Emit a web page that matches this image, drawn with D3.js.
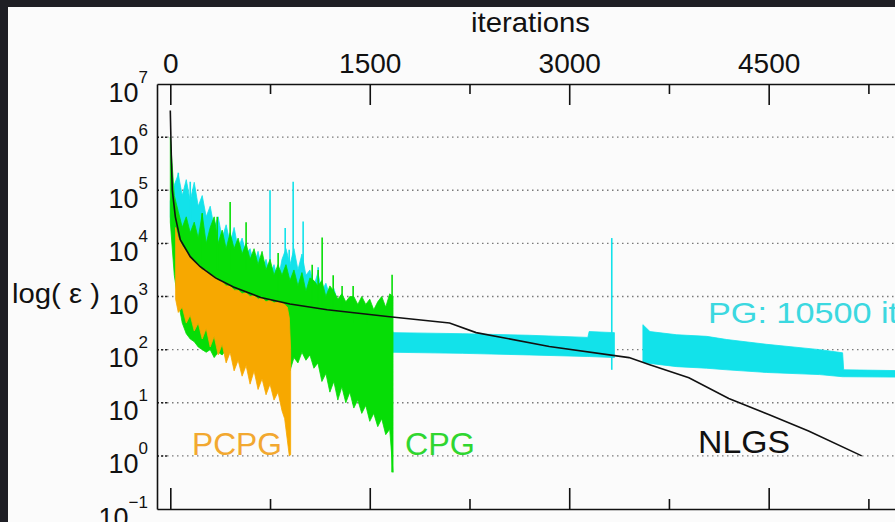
<!DOCTYPE html>
<html>
<head>
<meta charset="utf-8">
<script src="https://cdn.jsdelivr.net/npm/d3@7"></script>
<style>
  html, body { margin: 0; padding: 0; background: #1f1f25; }
  svg { display: block; }
  text { font-family: "Liberation Sans", Arial, Helvetica, sans-serif; }
</style>
</head>
<body>
<div id="chart"></div>
<script>
// values are log10(error)
const earlyIter = [0,30,60,90,120,150,180,210,240,270,300,330,360,390,420,450,480,510,540,570,600,630,660,690,720,750,780,810,840,870,900,930,960,990,1020,1050,1080,1110,1140,1170,1200,1230,1260,1290,1320,1350,1380,1410,1440,1470,1500,1530,1560,1590,1620,1650,1675];

// PG (cyan), noisy start
const pgHi = [4.8,5.1,5.3,4.9,5.2,4.8,5.15,4.7,4.9,4.5,4.7,4.3,4.5,4.1,4.35,4.0,4.3,3.9,4.1,3.8,3.9,3.6,3.85,3.5,3.7,3.4,3.6,3.3,3.7,3.9,3.6,3.9,3.5,3.8,3.4,3.5,3.2,3.45,3.1,3.25,3.0,3.15,2.9,3.05,2.8,2.9,2.7,2.85,2.6,2.75,2.55,2.7,2.5,2.65,2.45,2.6,2.32];
const pgLo = [4.5,3.8,3.3,2.9,2.7,2.6,2.5,2.5,2.5,2.5,2.5,2.5,2.5,2.5,2.5,2.5,2.4,2.4,2.4,2.4,2.4,2.4,2.4,2.4,2.4,2.4,2.4,2.4,2.3,2.3,2.3,2.3,2.2,2.2,2.2,2.2,2.2,2.2,2.2,2.1,2.1,2.1,2.1,2.05,2.05,2.05,2.0,2.0,2.0,2.0,2.0,2.0,1.98,1.98,1.96,1.96,1.95];
// PG oscillation band afterwards (null = gap)
const pgBandIter = [1675,2200,2700,3140,3150,3340,3341,3554,3607,3809,4034,4185,4485,4884,5056,5064,5600];
const pgBandHi = [2.32,2.30,2.27,2.23,2.34,2.32,null,2.47,2.34,2.28,2.25,2.19,2.10,2.00,1.94,1.62,1.60];
const pgBandLo = [1.95,1.93,1.90,1.87,1.87,1.85,null,1.76,1.74,1.68,1.65,1.62,1.57,1.53,1.49,1.49,1.48];
const pgSpikeIter = [60,150,750,864,894,924,999,1112,3320];
const pgSpikeTop = [5.33,5.16,5.0,4.29,3.88,5.16,4.41,3.55,4.1];
const pgSpikeBottom = [4.0,4.0,3.3,3.3,3.3,3.3,3.3,3.0,1.62];

// CPG (green)
const cpgHi = [6.0,4.9,4.6,4.3,4.5,4.2,4.4,4.1,4.55,4.0,4.3,4.5,4.0,4.25,3.9,4.2,3.9,4.1,3.8,4.0,3.7,3.9,3.6,3.85,3.5,3.7,3.4,3.6,3.4,3.6,3.3,3.5,3.2,3.45,3.1,3.35,3.3,3.2,3.3,3.0,3.2,3.1,2.95,3.05,2.9,3.0,3.0,2.85,3.0,2.85,2.95,2.75,2.9,3.0,2.8,3.05,3.0];
const cpgLo = [4.4,3.4,2.9,2.5,2.3,2.2,2.15,2.05,2.0,1.95,2.0,1.85,1.95,1.9,2.0,1.95,1.9,2.0,1.9,2.0,1.9,2.0,1.9,2.0,1.9,2.0,1.9,2.0,1.9,1.8,1.6,1.85,1.75,1.95,1.8,1.9,1.65,1.75,1.4,1.55,1.2,1.4,1.05,1.3,1.0,1.2,0.9,1.05,0.8,0.95,0.65,0.8,0.55,0.7,0.4,0.5,-0.31];
const cpgSpikeIter = [240,353,450,570,811,1067,1112,1142,1225,1292,1375,1480,1668];
const cpgSpikeTop = [4.57,4.5,4.78,4.4,3.82,3.6,3.5,4.11,3.4,3.2,3.2,2.85,3.41];
const cpgSpikeBottom = [3.5,3.5,3.5,3.5,3.0,2.8,2.8,2.8,2.6,2.6,2.5,2.5,-0.31];

// PCPG (orange)
const pcpgIter = [40,60,90,120,150,180,210,240,270,300,330,360,390,420,450,480,510,540,570,600,630,660,690,720,750,780,810,840,860,880,895,905];
const pcpgHi = [4.3,4.1,3.95,3.85,3.72,3.65,3.6,3.5,3.5,3.4,3.38,3.3,3.28,3.2,3.2,3.12,3.12,3.05,3.07,3.0,3.02,2.95,2.97,2.9,2.93,2.88,2.9,2.88,2.85,2.8,2.6,2.0];
const pcpgLo = [2.95,2.7,2.8,2.5,2.65,2.35,2.5,2.2,2.4,2.05,2.25,1.9,2.1,1.75,1.95,1.6,1.8,1.5,1.7,1.35,1.6,1.25,1.45,1.15,1.35,1.05,1.2,0.85,0.7,0.3,0.0,0.02];

// NLGS (black)
const nlgsIter = [0,8,15,38,75,150,225,340,475,680,900,1180,1650,2100,2300,2850,3450,3600,3900,4200,4500,4800,5200];
const nlgsVal = [6.5,5.6,5.0,4.5,4.07,3.75,3.56,3.35,3.18,2.98,2.86,2.75,2.62,2.50,2.32,2.06,1.85,1.72,1.47,1.08,0.78,0.47,0.0];

const majorTicks = [0,1500,3000,4500];
const minorTicks = [750,2250,3750,5250];
const yExps = [-1,0,1,2,3,4,5,6,7];

const W = 895, H = 522;
const pLeft = 157, pTop = 84, pBottom = 509, pRight = 895;

const svg = d3.select("#chart").append("svg")
    .attr("width", W)
    .attr("height", H);

svg.append("rect").attr("width", W).attr("height", H).attr("fill", "#1f1f25");
svg.append("rect").attr("x", 8).attr("y", 7).attr("width", W - 8).attr("height", H - 7).attr("fill", "#fbfbfb");

const x = d3.scaleLinear().domain([-100, 5450]).range([pLeft, pRight]);
const y = d3.scaleLog().domain([1e-1, 1e7]).range([pBottom, pTop]);
const p = e => Math.pow(10, e);

// dotted grid
const grid = svg.append("g");
yExps.filter(e => e >= 0 && e <= 6).forEach(e => {
    grid.append("line")
        .attr("x1", pLeft).attr("x2", pRight)
        .attr("y1", y(p(e))).attr("y2", y(p(e)))
        .attr("stroke", "#7a7a7a").attr("stroke-width", 1.3)
        .attr("stroke-dasharray", "1.5,3.5");
    grid.append("line")
        .attr("x1", pLeft).attr("x2", pLeft + 12)
        .attr("y1", y(p(e))).attr("y2", y(p(e)))
        .attr("stroke", "#222").attr("stroke-width", 1.5)
        .attr("stroke-dasharray", "2,2");
});

svg.append("clipPath").attr("id", "clip")
    .append("rect").attr("x", pLeft).attr("y", pTop).attr("width", pRight - pLeft).attr("height", pBottom - pTop);
const plot = svg.append("g").attr("clip-path", "url(#clip)");

const area = d3.area()
    .defined(d => d.hi != null)
    .x(d => x(d.it))
    .y0(d => y(p(d.lo)))
    .y1(d => y(p(d.hi)));

function drawBand(iters, hi, lo, color) {
    const rows = iters.map((it, i) => ({it: it, hi: hi[i], lo: lo[i]}));
    plot.append("path")
        .datum(rows)
        .attr("d", area)
        .attr("fill", color)
        .attr("stroke", color)
        .attr("stroke-width", 0.8);
}

function drawSpikes(iters, tops, bottoms, color) {
    plot.selectAll(null)
        .data(iters)
        .enter()
        .append("line")
        .attr("x1", d => x(d)).attr("x2", d => x(d))
        .attr("y1", (d, i) => y(p(bottoms[i])))
        .attr("y2", (d, i) => y(p(tops[i])))
        .attr("stroke", color)
        .attr("stroke-width", 1.6);
}

const cyan = "#12e2ea", green = "#06dd06", orange = "#f7a800";

drawBand(earlyIter, pgHi, pgLo, cyan);
drawBand(pgBandIter, pgBandHi, pgBandLo, cyan);
drawSpikes(pgSpikeIter, pgSpikeTop, pgSpikeBottom, cyan);

drawBand(earlyIter, cpgHi, cpgLo, green);
drawSpikes(cpgSpikeIter, cpgSpikeTop, cpgSpikeBottom, green);

drawBand(pcpgIter, pcpgHi, pcpgLo, orange);

plot.append("path")
    .datum(nlgsIter.map((it, i) => [it, nlgsVal[i]]))
    .attr("d", d3.line().x(d => x(d[0])).y(d => y(p(d[1]))))
    .attr("fill", "none")
    .attr("stroke", "#111")
    .attr("stroke-width", 1.6);

// axes
function styleAxis(g) {
    g.attr("font-family", null).attr("font-size", null);
    g.selectAll("path, line").attr("stroke", "#111").attr("stroke-width", 1.6);
}

svg.append("g")
    .attr("transform", `translate(0,${pTop})`)
    .call(d3.axisTop(x).tickValues(majorTicks).tickFormat(d3.format("d"))
        .tickSizeInner(-21).tickSizeOuter(0).tickPadding(11))
    .call(styleAxis)
    .call(g => g.selectAll("text").attr("font-size", 28).attr("fill", "#111"));

svg.append("g")
    .attr("transform", `translate(0,${pTop})`)
    .call(d3.axisTop(x).tickValues(minorTicks).tickSizeInner(-10).tickFormat(""))
    .call(styleAxis)
    .call(g => g.select(".domain").remove());

svg.append("g")
    .attr("transform", `translate(0,${pBottom})`)
    .call(d3.axisBottom(x).tickValues(majorTicks).tickSizeInner(-21).tickSizeOuter(0).tickFormat(""))
    .call(styleAxis);

svg.append("g")
    .attr("transform", `translate(0,${pBottom})`)
    .call(d3.axisBottom(x).tickValues(minorTicks).tickSizeInner(-10).tickFormat(""))
    .call(styleAxis)
    .call(g => g.select(".domain").remove());

svg.append("g")
    .attr("transform", `translate(${pLeft},0)`)
    .call(d3.axisLeft(y).tickValues(yExps.map(p)).tickSizeInner(0).tickSizeOuter(0).tickPadding(9))
    .call(styleAxis)
    .call(g => g.selectAll(".tick text")
        .attr("dy", 17)
        .attr("font-size", 27)
        .attr("fill", "#111")
        .text("10")
        .append("tspan")
        .attr("dy", -19)
        .attr("font-size", 17)
        .text(d => {
            const e = Math.round(Math.log10(d));
            return e < 0 ? "\u2212" + (-e) : String(e);
        }));

// titles and series labels
svg.append("text").attr("x", 471).attr("y", 32)
    .attr("font-size", 28).attr("fill", "#111")
    .attr("textLength", 119).attr("lengthAdjust", "spacingAndGlyphs").text("iterations");
svg.append("text").attr("x", 12).attr("y", 303)
    .attr("font-size", 27).attr("fill", "#111")
    .attr("textLength", 88).attr("lengthAdjust", "spacingAndGlyphs").text("log( \u03b5 )");

svg.append("text").attr("x", 192).attr("y", 455).attr("font-size", 31).attr("fill", "#f2a830")
    .attr("textLength", 90).attr("lengthAdjust", "spacingAndGlyphs").text("PCPG");
svg.append("text").attr("x", 405).attr("y", 455).attr("font-size", 31).attr("fill", "#30d630")
    .attr("textLength", 70).attr("lengthAdjust", "spacingAndGlyphs").text("CPG");
svg.append("text").attr("x", 698).attr("y", 453).attr("font-size", 31).attr("fill", "#111")
    .attr("textLength", 92).attr("lengthAdjust", "spacingAndGlyphs").text("NLGS");
svg.append("text").attr("x", 708).attr("y", 323).attr("font-size", 30).attr("fill", "#3cd8e0")
    .attr("textLength", 190).attr("lengthAdjust", "spacingAndGlyphs").text("PG: 10500 it");
</script>
</body>
</html>
